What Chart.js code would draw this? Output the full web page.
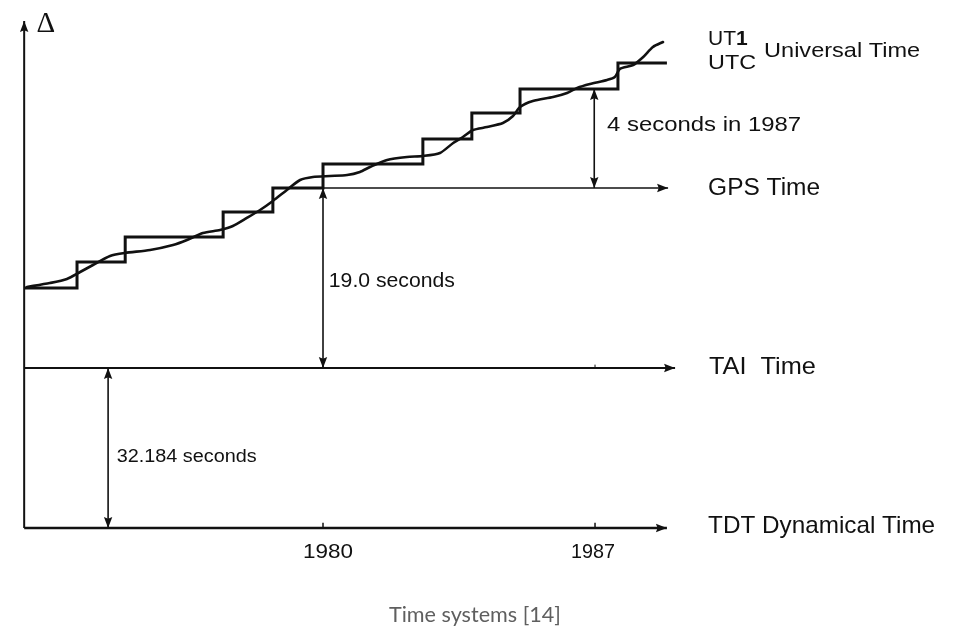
<!DOCTYPE html>
<html>
<head>
<meta charset="utf-8">
<script src="https://cdn.jsdelivr.net/npm/chart.js@4/dist/chart.umd.min.js"></script>
<style>
  html,body{margin:0;padding:0;background:#fff;}
  #c{display:block;}
</style>
</head>
<body>
<canvas id="c" width="954" height="626"></canvas>
<script>
// ---------- data (x in years, y in schematic "seconds" offset, TAI = 0) ----------
const leapYears  = [1972.33, 1973.67, 1974.91, 1977.43, 1978.71, 1980.00, 1982.57, 1983.83, 1985.07, 1987.59, 1988.85];
const utcOffset  = [8.33, 11.04, 13.65, 16.25, 18.75, 21.25, 23.85, 26.56, 29.06, 31.77, 31.77];

const ut1Years  = [1972.38, 1972.97, 1973.41, 1973.75, 1974.08, 1974.52, 1974.90, 1975.55, 1976.14, 1976.50, 1976.91,
                   1977.35, 1977.68, 1978.04, 1978.38, 1978.71, 1979.07, 1979.41, 1979.74, 1980.18, 1980.62, 1980.95,
                   1981.21, 1981.65, 1982.16, 1982.57, 1983.01, 1983.35, 1983.60, 1983.86, 1984.22, 1984.63, 1984.89,
                   1985.07, 1985.40, 1985.92, 1986.28, 1986.54, 1986.87, 1987.31, 1987.51, 1987.64, 1987.98, 1988.24,
                   1988.49, 1988.75];
const ut1Offset = [8.44, 8.85, 9.27, 10.00, 10.73, 11.67, 11.98, 12.29, 12.81, 13.33, 14.06,
                   14.38, 14.79, 15.63, 16.46, 17.40, 18.54, 19.58, 19.90, 20.00, 20.10, 20.42,
                   20.94, 21.67, 21.98, 22.08, 22.40, 23.44, 24.06, 24.79, 25.10, 25.52, 26.25,
                   27.19, 27.81, 28.23, 28.65, 29.17, 29.58, 30.00, 30.31, 31.15, 31.56, 32.40,
                   33.44, 33.96];

const gpsOffset = 18.75;     // GPS time line
const taiOffset = 0;         // TAI time line
const tdtOffset = -16.67;    // TDT line (drawn position, schematic)
const axisYear  = 1972.31;   // vertical Δ axis
const axisTop   = 36.15;
const gpsStartYear = 1978.71, gpsEndYear = 1988.88;
const taiEndYear = 1989.06, tdtEndYear = 1988.85;
const tickYears  = [1980, 1987];
const tickLabels = ['1980', '1987'];
const gap19Year = 1980.0, gap4Year = 1986.98, gap32Year = 1974.47;

// ---------- text annotations ----------
const labels = [
  {t:'Δ', x:1972.87, y:35.8, font:'29px "Liberation Serif"', align:'center'},
  {t:'UTC', x:1989.91, y:31.67, font:'20px "Liberation Sans"', w:48},
  {t:'Universal Time', x:1991.35, y:33.02, font:'21px "Liberation Sans"', w:156},
  {t:'4 seconds in 1987', x:1987.31, y:25.21, font:'20px "Liberation Sans"', w:194},
  {t:'GPS Time', x:1989.91, y:18.65, font:'23px "Liberation Sans"', w:112},
  {t:'19.0 seconds', x:1980.15, y:9.06, font:'21px "Liberation Sans"', w:126},
  {t:'TAI  Time', x:1989.93, y:0.10, font:'24px "Liberation Sans"', w:107},
  {t:'32.184 seconds', x:1974.69, y:-9.27, font:'18px "Liberation Sans"', w:140},
  {t:'TDT Dynamical Time', x:1989.91, y:-16.46, font:'24px "Liberation Sans"', w:227},
  {t:tickLabels[0], x:1980.13, y:-19.17, font:'21px "Liberation Sans"', align:'center', w:50},
  {t:tickLabels[1], x:1986.95, y:-19.17, font:'21px "Liberation Sans"', align:'center', w:44},
  {t:'Time systems [14]', x:1983.91, y:-25.73, font:'21px Lato', align:'center', w:172, color:'#5f5f5f'}
];
const ut1Label = {x:1989.91, y:34.27};

// ---------- chart ----------
const ink = '#111';
function seg(points, width, extra) {
  return Object.assign({data: points, borderColor: ink, backgroundColor: ink, borderWidth: width,
    pointRadius: 0, showLine: true, fill: false, tension: 0, borderCapStyle: 'butt'}, extra || {});
}
const datasets = [
  seg([{x:axisYear,y:tdtOffset},{x:axisYear,y:axisTop}], 2, {arrow:'end'}),
  seg([{x:axisYear,y:taiOffset},{x:taiEndYear,y:taiOffset}], 2, {arrow:'end'}),
  seg([{x:axisYear,y:tdtOffset},{x:tdtEndYear,y:tdtOffset}], 2.5, {arrow:'end'}),
  seg([{x:gpsStartYear,y:gpsOffset},{x:gpsEndYear,y:gpsOffset}], 1.5, {arrow:'end'}),
  seg([{x:gap19Year,y:taiOffset},{x:gap19Year,y:gpsOffset}], 1.6, {arrow:'both'}),
  seg([{x:gap4Year,y:gpsOffset},{x:gap4Year,y:utcOffset[8]}], 1.6, {arrow:'both'}),
  seg([{x:gap32Year,y:tdtOffset},{x:gap32Year,y:taiOffset}], 1.6, {arrow:'both'}),
  seg(leapYears.map((x,i)=>({x, y:utcOffset[i]})), 3, {stepped:'before', borderJoinStyle:'miter'}),
  seg(ut1Years.map((x,i)=>({x, y:ut1Offset[i]})), 2.6, {tension:0.25, borderJoinStyle:'round', borderCapStyle:'round'})
];
tickYears.forEach(yr => datasets.push(seg([{x:yr,y:tdtOffset},{x:yr,y:tdtOffset+0.55}], 1.5)));
tickYears.forEach(yr => datasets.push(seg([{x:yr,y:taiOffset},{x:yr,y:taiOffset+0.35}], 1)));

const arrowPlugin = {
  id:'arrows',
  afterDatasetsDraw(chart) {
    const ctx = chart.ctx;
    chart.data.datasets.forEach((ds, i) => {
      if (!ds.arrow) return;
      const pts = chart.getDatasetMeta(i).data;
      const heads = [];
      if (ds.arrow === 'end' || ds.arrow === 'both') heads.push([pts[pts.length-1], pts[pts.length-2]]);
      if (ds.arrow === 'start' || ds.arrow === 'both') heads.push([pts[0], pts[1]]);
      heads.forEach(([tip, from]) => {
        const a = Math.atan2(tip.y - from.y, tip.x - from.x);
        const L = 11, H = 4.2;
        ctx.save();
        ctx.translate(tip.x, tip.y);
        ctx.rotate(a);
        ctx.beginPath();
        ctx.moveTo(0,0); ctx.lineTo(-L,-H); ctx.lineTo(-L*0.85,0); ctx.lineTo(-L,H); ctx.closePath();
        ctx.fillStyle = ink; ctx.fill();
        ctx.restore();
      });
    });
  }
};

function drawText(ctx, t, px, py, o) {
  ctx.save();
  ctx.font = o.font;
  const w = ctx.measureText(t).width;
  const sx = o.w ? o.w / w : 1;
  ctx.translate(px, py);
  ctx.scale(sx, 1);
  ctx.textBaseline = 'middle';
  ctx.textAlign = o.align || 'left';
  ctx.fillStyle = o.color || ink;
  ctx.fillText(t, 0, 0);
  ctx.restore();
}

const textPlugin = {
  id:'texts',
  afterDraw(chart) {
    const ctx = chart.ctx, xs = chart.scales.x, ys = chart.scales.y;
    labels.forEach(l => drawText(ctx, l.t, xs.getPixelForValue(l.x), ys.getPixelForValue(l.y), l));
    // UT1 with a bold "1"
    const px = xs.getPixelForValue(ut1Label.x), py = ys.getPixelForValue(ut1Label.y);
    ctx.save();
    ctx.textBaseline = 'middle'; ctx.fillStyle = ink;
    ctx.font = '21px "Liberation Sans"';
    ctx.fillText('UT', px, py);
    const w = ctx.measureText('UT').width;
    ctx.font = 'bold 21px "Liberation Sans"';
    ctx.fillText('1', px + w, py);
    ctx.restore();
  }
};

new Chart(document.getElementById('c'), {
  type: 'scatter',
  data: { datasets },
  options: {
    responsive: false,
    animation: false,
    layout: { padding: 0 },
    plugins: { legend: { display: false }, tooltip: { enabled: false } },
    scales: {
      x: { type: 'linear', min: 1971.688, max: 1971.688 + 954/38.86, display: false },
      y: { type: 'linear', min: -26.875, max: 38.333, display: false }
    }
  },
  plugins: [arrowPlugin, textPlugin]
});
</script>
</body>
</html>
